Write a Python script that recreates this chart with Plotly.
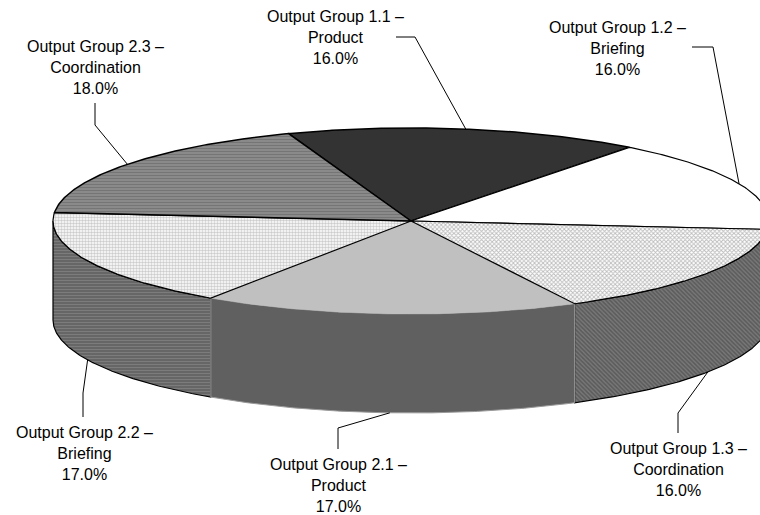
import numpy as np
import plotly.graph_objects as go

# ---- data ----
groups = ["Output Group 1.1", "Output Group 1.2", "Output Group 1.3",
          "Output Group 2.1", "Output Group 2.2", "Output Group 2.3"]
names = ["Product", "Briefing", "Coordination", "Product", "Briefing", "Coordination"]
values = [16, 16, 16, 17, 17, 18]

# ---- style / layout ----
W, H = 760, 515
cx, cy, rx, ry, depth = 411, 221, 358, 93, 99
start_angle = 110.0  # degrees, parametric angle of first slice edge, clockwise order

top_style = [
    dict(fillcolor="#333333"),
    dict(fillcolor="#ffffff"),
    dict(fillpattern=dict(shape="x", bgcolor="#ffffff", fgcolor="#777777", size=3, solidity=0.5)),
    dict(fillcolor="#c0c0c0"),
    dict(fillpattern=dict(shape=".", bgcolor="#ffffff", fgcolor="#9a9a9a", size=3, solidity=0.55)),
    dict(fillpattern=dict(shape="-", bgcolor="#8c8c8c", fgcolor="#5e5e5e", size=3, solidity=0.4)),
]
side_style = [
    dict(fillcolor="#1a1a1a"),
    dict(fillcolor="#d8d8d8"),
    dict(fillpattern=dict(shape="\\", bgcolor="#787878", fgcolor="#3c3c3c", size=3, solidity=0.5)),
    dict(fillcolor="#606060"),
    dict(fillpattern=dict(shape="-", bgcolor="#666666", fgcolor="#919191", size=3, solidity=0.35)),
    dict(fillcolor="#555555"),
]
top_border = [1.5, 1.2, 1.2, 0, 1.2, 1.5]

label_xy = [(335, 37), (617, 48), (678, 469), (338, 485), (84, 453), (95, 67)]
elbow_xy = [(415, 37), (713, 47), (678, 413), (338, 428), (83, 393), (95, 125)]
near_xy = [(396, 37), (692, 47), (678, 433), (338, 449), (83, 417), (95, 103)]

total = sum(values)
fig = go.Figure()

# slice angle ranges
ranges = []
a = start_angle
for v in values:
    span = 360.0 * v / total
    ranges.append((a - span, a))
    a -= span


def ex(t):
    return cx + rx * np.cos(np.radians(t))


def ey(t, off=0.0):
    return cy + off - ry * np.sin(np.radians(t))


# sides (front-facing part only)
side_order = [1, 2, 4, 5, 0, 3]
for i in side_order:
    t0, t1 = ranges[i]
    for k in (-1, 0, 1):
        lo = max(t0, -180 + 360 * k)
        hi = min(t1, 0 + 360 * k)
        if hi > lo:
            ts = np.linspace(hi, lo, 120)
            xs = np.concatenate([ex(ts), ex(ts[::-1])])
            ys = np.concatenate([ey(ts), ey(ts[::-1], depth)])
            xs = np.append(xs, xs[0])
            ys = np.append(ys, ys[0])
            lc, lw = ("#9a9a9a", 1) if i == 3 else ("#000000", 1.2)
            fig.add_trace(go.Scatter(x=xs, y=ys, mode="lines", fill="toself",
                                     line=dict(color=lc, width=lw),
                                     hoverinfo="skip", showlegend=False, **side_style[i]))

# tops
top_order = [3, 0, 1, 2, 4, 5]
for i in top_order:
    t0, t1 = ranges[i]
    ts = np.linspace(t1, t0, 160)
    xs = np.concatenate([[cx], ex(ts), [cx]])
    ys = np.concatenate([[cy], ey(ts), [cy]])
    lw = top_border[i]
    line = dict(color="#000000", width=lw) if lw > 0 else dict(color="rgba(0,0,0,0)", width=0)
    fig.add_trace(go.Scatter(x=xs, y=ys, mode="lines", fill="toself", line=line,
                             hoverinfo="skip", showlegend=False, **top_style[i]))

# leader lines and labels
for i, v in enumerate(values):
    t0, t1 = ranges[i]
    tm = (t0 + t1) / 2
    front = np.sin(np.radians(tm)) < 0
    px, py = ex(tm), ey(tm, depth if front else 0)
    ebx, eby = elbow_xy[i]
    nx, ny = near_xy[i]
    fig.add_trace(go.Scatter(x=[px, ebx, nx], y=[py, eby, ny], mode="lines",
                             line=dict(color="#000000", width=1),
                             hoverinfo="skip", showlegend=False))
    lx, ly = label_xy[i]
    pct = f"{100.0 * v / total:.1f}%"
    fig.add_annotation(x=lx, y=ly, xref="x", yref="y", showarrow=False,
                       text=f"{groups[i]} –<br>{names[i]}<br>{pct}",
                       align="center", xanchor="center", yanchor="middle",
                       font=dict(family="Liberation Sans, Arial, sans-serif", size=16, color="#000000"))

fig.update_layout(
    width=W, height=H,
    margin=dict(l=0, r=0, t=0, b=0),
    paper_bgcolor="#ffffff", plot_bgcolor="#ffffff",
    xaxis=dict(range=[0, W], visible=False, fixedrange=True),
    yaxis=dict(range=[H, 0], visible=False, fixedrange=True),
)

fig.write_html("out.html")
